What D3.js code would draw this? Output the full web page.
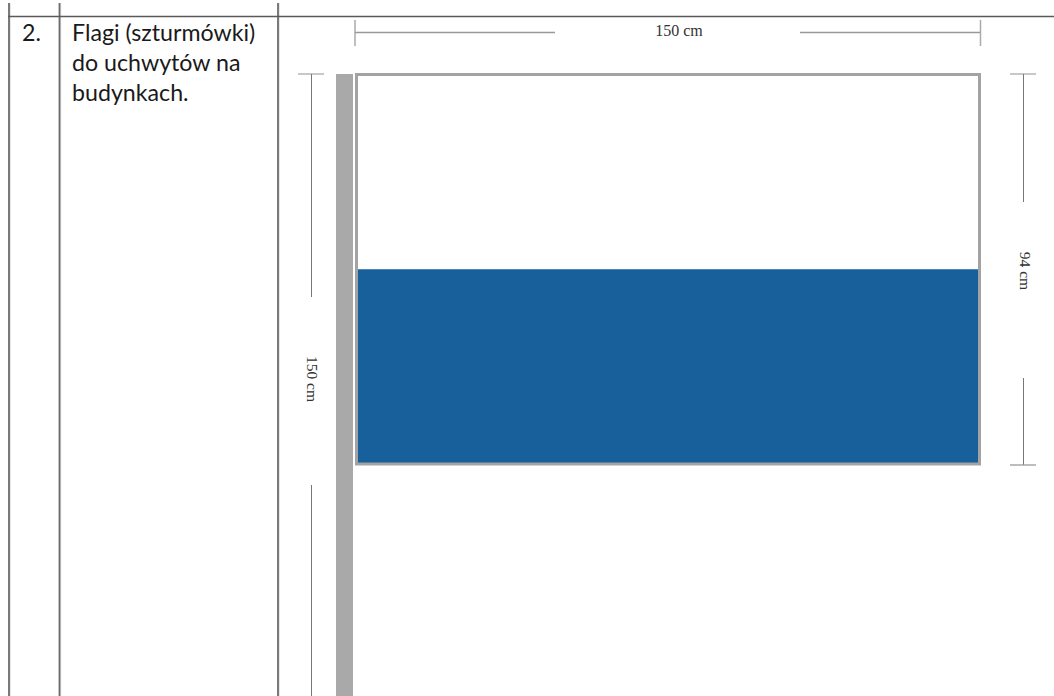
<!DOCTYPE html>
<html><head><meta charset="utf-8">
<script src="https://cdn.jsdelivr.net/npm/d3@7/dist/d3.min.js"></script>
<style>html,body{margin:0;padding:0;background:#fff;overflow:hidden}svg{display:block}</style>
</head><body><div id="c"></div>
<script>
// Data
const rowNumber = "2.";
const descriptionLines = ["Flagi (szturmówki)", "do uchwytów na", "budynkach."];
const flagWidthCm = 150;
const flagHeightCm = 94;
const poleHeightCm = 150;
const stripes = [
  {name: "biały", from: 0, to: 47, color: "#ffffff"},
  {name: "niebieski", from: 47, to: 94, color: "#17609c"}
];
const widthLabel = "150 cm";
const heightLabel = "94 cm";
const poleLabel = "150 cm";

const W = 1054, H = 696;
const svg = d3.select("#c").append("svg").attr("width", W).attr("height", H).attr("viewBox", [0,0,W,H]);

const x = d3.scaleLinear().domain([0, flagWidthCm]).range([356.5, 979.5]);
const y = d3.scaleLinear().domain([0, flagHeightCm]).range([74.5, 464]);
const yPole = d3.scaleLinear().domain([0, poleHeightCm]).range([74, 695]);

// table grid
const grid = svg.append("g").attr("fill","none");
[9, 59.5, 278].forEach(px => {
  grid.append("line").attr("x1", px+1.2).attr("x2", px+1.2).attr("y1", 3).attr("y2", H).attr("stroke","#dcdcdc").attr("stroke-width",1);
  grid.append("line").attr("x1", px).attr("x2", px).attr("y1", 3).attr("y2", H).attr("stroke","#6c6c6c").attr("stroke-width",1.8);
});
grid.append("line").attr("x1", 8).attr("x2", W).attr("y1", 16.5).attr("y2", 16.5).attr("stroke","#5a5a5a").attr("stroke-width",1.5);

// table text
const tf = "Lato, 'Open Sans', sans-serif";
svg.append("text").attr("x", 22).attr("y", 41).attr("font-family", tf).attr("font-size", 23.2).attr("fill", "#1a1a1a").text(rowNumber);
svg.append("g").selectAll("text").data(descriptionLines).join("text")
  .attr("x", 72).attr("y", (d,i) => 41 + i*30)
  .attr("font-family", tf).attr("font-size", 23.2).attr("fill", "#1a1a1a").text(d => d);

// pole
svg.append("rect").attr("x", 336).attr("y", yPole(0)).attr("width", 17).attr("height", yPole(poleHeightCm)-yPole(0)+1).attr("fill", "#a9a9a9");

// flag
svg.append("g").selectAll("rect").data(stripes).join("rect")
  .attr("x", x(0)).attr("width", x(flagWidthCm)-x(0))
  .attr("y", d => y(d.from)).attr("height", d => y(d.to)-y(d.from))
  .attr("fill", d => d.color);
svg.append("rect").attr("x", x(0)).attr("y", y(0)).attr("width", x(flagWidthCm)-x(0)).attr("height", y(flagHeightCm)-y(0))
  .attr("fill","none").attr("stroke","#a3a3a3").attr("stroke-width",3);

// dimension lines
const dim = svg.append("g").attr("fill","none");
const seg = (a,b,c,d,col,w) => dim.append("line").attr("x1",a).attr("y1",b).attr("x2",c).attr("y2",d).attr("stroke",col).attr("stroke-width",w);
// top
seg(355,20,355,46,"#aaa",1.5);
seg(355,32.5,555,32.5,"#999",1.3);
seg(800,32.5,980.5,32.5,"#999",1.3);
seg(980.5,20,980.5,46,"#aaa",1.5);
// right
seg(1010,74,1036,74,"#aaa",1.3);
seg(1023.5,74,1023.5,202,"#777",1);
seg(1023.5,378,1023.5,465,"#777",1);
seg(1010,465,1036,465,"#999",1.3);
// left
seg(298,74,324,74,"#aaa",1.3);
seg(311.5,74,311.5,297,"#777",1);
seg(311.5,485,311.5,H,"#777",1);

const lf = "'Liberation Serif', serif";
svg.append("text").attr("x",679).attr("y",36).attr("text-anchor","middle").attr("font-family",lf).attr("font-size",16).attr("fill","#333").text(widthLabel);
svg.append("text").attr("transform","translate(1020,271) rotate(90)").attr("text-anchor","middle").attr("font-family",lf).attr("font-size",15.5).attr("fill","#333").text(heightLabel);
svg.append("text").attr("transform","translate(307,379) rotate(90)").attr("text-anchor","middle").attr("font-family",lf).attr("font-size",15.5).attr("fill","#333").text(poleLabel);
</script></body></html>
